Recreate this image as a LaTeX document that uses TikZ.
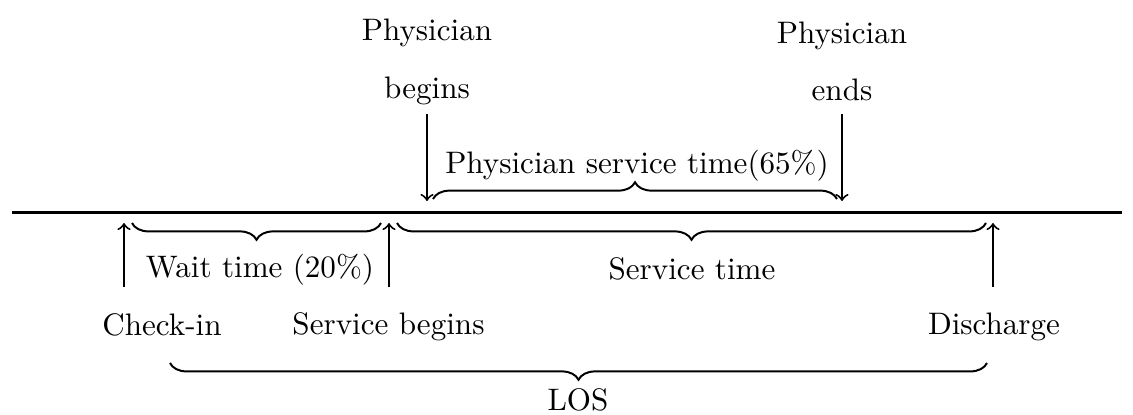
\documentclass[tikz,border=0pt]{standalone}
\usetikzlibrary{decorations.pathreplacing}
\begin{document}
\begin{tikzpicture}[x=0.328pt,y=-0.328pt,
  lbl/.style={anchor=base,inner sep=0pt,font=\fontsize{10.2pt}{12pt}\selectfont},
  brc/.style={decorate,decoration={brace,amplitude=5.5pt},line width=0.65pt},
  brcm/.style={decorate,decoration={brace,amplitude=5.5pt,mirror},line width=0.65pt},
  arr/.style={->,line width=0.65pt},
  axis/.style={line width=0.75pt}]
\useasboundingbox (0,0) rectangle (1133,414);
% main line
\coordinate (l0) at (12,212.5);
\coordinate (l1) at (1122,212.5);
\draw[axis] (l0) -- (l1);
% arrow coordinates
\coordinate (ci0) at (124,287); \coordinate (ci1) at (124,223);
\coordinate (sb0) at (389,287); \coordinate (sb1) at (389,223);
\coordinate (dc0) at (993,287); \coordinate (dc1) at (993,223);
\coordinate (pb0) at (427,114); \coordinate (pb1) at (427,201);
\coordinate (pe0) at (842,114); \coordinate (pe1) at (842,201);
\draw[arr] (ci0) -- (ci1);
\draw[arr] (sb0) -- (sb1);
\draw[arr] (dc0) -- (dc1);
\draw[arr] (pb0) -- (pb1);
\draw[arr] (pe0) -- (pe1);
% braces
\coordinate (wb0) at (132,223); \coordinate (wb1) at (381,223);
\coordinate (sv0) at (397,223); \coordinate (sv1) at (986,223);
\coordinate (ps0) at (433,199); \coordinate (ps1) at (837,199);
\coordinate (lo0) at (170,363); \coordinate (lo1) at (987,363);
\draw[brcm] (wb0) -- (wb1);
\draw[brcm] (sv0) -- (sv1);
\draw[brc] (ps0) -- (ps1);
\draw[brcm] (lo0) -- (lo1);
% labels
\node[lbl] (phb1) at (427,40) {Physician};
\node[lbl] (phb2) at (427,98) {begins};
\node[lbl] (phe1) at (842,43) {Physician};
\node[lbl] (phe2) at (842,100) {ends};
\node[lbl] (pst) at (637,173) {Physician service time(65\%)};
\node[lbl] (wt) at (260,277) {Wait time (20\%)};
\node[lbl] (st) at (692,279) {Service time};
\node[lbl] (chk) at (162,335) {Check-in};
\node[lbl] (sbg) at (388.5,334) {Service begins};
\node[lbl] (dis) at (994,334) {Discharge};
\node[lbl] (los) at (578,410) {LOS};
\end{tikzpicture}
\end{document}
